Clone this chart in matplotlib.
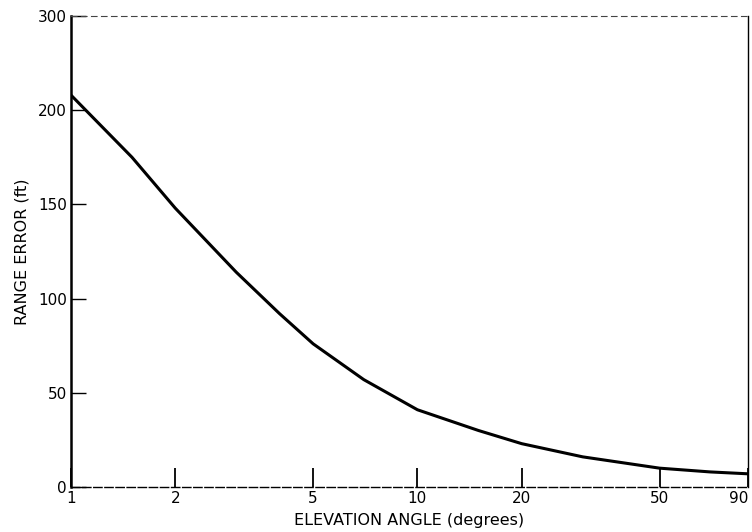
import matplotlib
matplotlib.use("Agg")
import matplotlib.pyplot as plt
from matplotlib.ticker import NullLocator

# Data
elevation = [1, 1.5, 2, 3, 4, 5, 7, 10, 15, 20, 30, 50, 70, 90]
range_error = [208, 175, 148, 114, 92, 76, 57, 41, 30, 23, 16, 10, 8, 7]

x_ticks = [1, 2, 5, 10, 20, 50, 90]
x_tick_labels = ["1", "2", "5", "10", "20", "50", "90"]
y_ticks = [0, 50, 100, 150, 200, 250]
y_tick_labels = ["0", "50", "100", "150", "200", "300"]

plt.rcParams['font.family'] = ['DejaVu Sans']
fig = plt.figure(figsize=(7.52, 5.32), dpi=100)
ax = fig.add_axes([71/752, 1 - 487/532, (748 - 71)/752, (487 - 16)/532])

ax.plot(elevation, range_error, color='black', lw=2.2, solid_capstyle='round')
ax.set_xscale('log')
ax.set_xlim(1, 90)
ax.set_ylim(0, 250)

ax.set_xticks(x_ticks)
ax.set_xticklabels(x_tick_labels)
ax.xaxis.set_minor_locator(NullLocator())
ax.set_yticks(y_ticks)
ax.set_yticklabels(y_tick_labels)
for lab in ax.get_xticklabels():
    if lab.get_text() == "90":
        lab.set_horizontalalignment('right')

ax.tick_params(axis='x', direction='in', length=14, width=1.3, labelsize=11, pad=3)
ax.tick_params(axis='y', direction='in', length=11, width=1.0, labelsize=11, pad=3)

ax.spines['left'].set_linewidth(1.8)
ax.spines['bottom'].set_linewidth(1.0)
ax.spines['bottom'].set_linestyle((0, (6, 2)))
ax.spines['top'].set_linewidth(0.8)
ax.spines['top'].set_linestyle((0, (5, 4)))
ax.spines['top'].set_color('#444444')
ax.spines['right'].set_linewidth(1.0)

ax.set_xlabel("ELEVATION ANGLE (degrees)", fontsize=11.5, labelpad=5)
ax.set_ylabel("RANGE ERROR (ft)", fontsize=11.5, labelpad=6)

fig.savefig("out.png", dpi=100)
